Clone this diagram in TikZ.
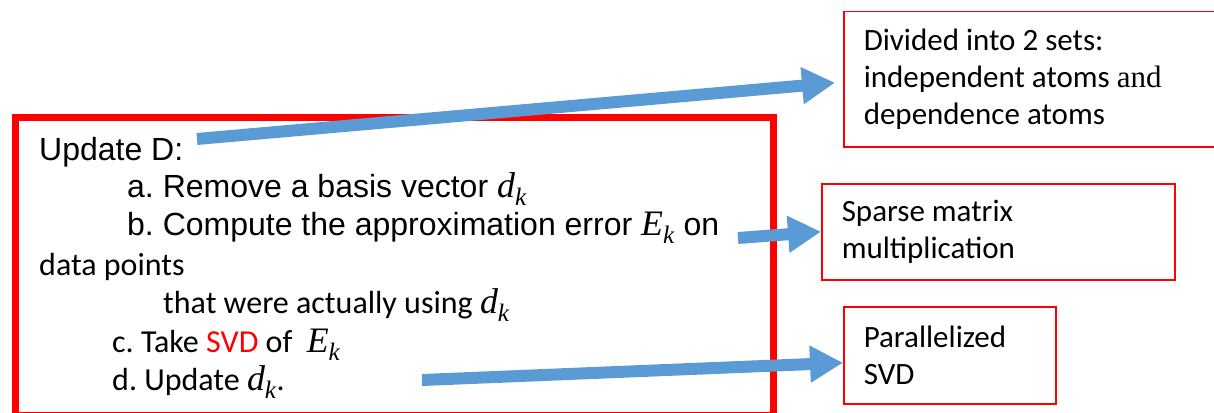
\documentclass[tikz,border=0pt]{standalone}
\usepackage{amsmath}
\usepackage{fontspec}
\setmainfont{Carlito}
\newfontfamily\arialfont{Liberation Sans}
\newfontfamily\timesfont{Liberation Serif}
\newfontfamily\symfont[Scale=1.12]{Liberation Serif}
\newcommand\symsub[2]{$\text{\symfont\itshape #1}_{\text{\symfont\itshape #2}}$}
\usetikzlibrary{arrows.meta}
\definecolor{arrowblue}{RGB}{91,155,213}
\frenchspacing

\begin{document}
\begin{tikzpicture}
[x=1pt, y=-1pt,
mainbox/.style={red, line width = 7pt},
sidebox/.style={draw=red, line width = 1.5pt, anchor=north west, align=flush left, inner xsep=20pt, inner ysep=0pt, font=\fontsize{31}{37}\selectfont},
bigarrow/.style={arrowblue, line width = 12pt, -{Triangle[length=33pt, width=35pt]}},
arial/.style={anchor=base west, inner sep=0pt, font=\arialfont\fontsize{32}{40}\selectfont},
calibri/.style={anchor=base west, inner sep=0pt, font=\fontsize{32}{37}\selectfont}]
\useasboundingbox (0,0) rectangle (1214,412);
\draw[mainbox] (15,117) rectangle (773,415);
\node[arial] (upd) at (39,160) {Update D:};
\node[arial] (remove) at (127,197) {a. Remove a basis vector \symsub{d}{k}};
\node[arial] (compute) at (127,235) {b. Compute the approximation error \symsub{E}{k} on};
\node[calibri] (data) at (39,275) {data points};
\node[calibri] (using) at (163,313) {that were actually using \symsub{d}{k}};
\node[calibri] (take) at (112,352) {c. Take {\color{red}SVD} of\ \ \symsub{E}{k}};
\node[calibri] (dk) at (112,390) {d. Update \symsub{d}{k}.};
\node[sidebox, text width=360pt, minimum height=135pt] (divided) at (843,11)
  {Divided into 2 sets:\\ independent atoms {\timesfont and}\\ dependence atoms};
\node[sidebox, text width=313pt, minimum height=96pt] (sparse) at (821,183)
  {Sparse matrix\\ multiplication};
\node[sidebox, text width=172pt, minimum height=97pt] (psvd) at (843,306)
  {Parallelized\\ SVD};
\coordinate (t1) at (197,139);
\coordinate (t2) at (738,238);
\coordinate (t3) at (422,380);
\draw[bigarrow] (t1) -- ([xshift=-8pt, yshift=-3.5pt]divided.west);
\draw[bigarrow] (t2) -- (sparse.west);
\draw[bigarrow] (t3) -- ([yshift=-7.5pt]psvd.west);
\end{tikzpicture}
\end{document}
